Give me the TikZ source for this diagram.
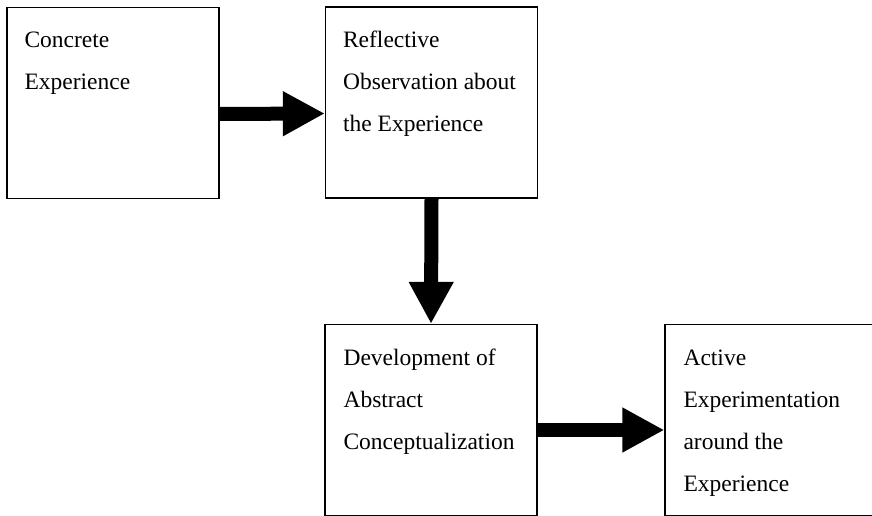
\documentclass[tikz,border=0pt]{standalone}
\usepackage{fontspec}
\setmainfont{Liberation Serif}
\usetikzlibrary{arrows.meta}
\begin{document}
\begin{tikzpicture}[x=1pt,y=1pt,
  stage/.style={draw,line width=1.3pt,minimum width=212pt,minimum height=191pt,inner sep=0pt},
  stagetext/.style={anchor=north west,inner sep=0pt,align=left,
    font=\fontsize{23.5}{42}\selectfont},
  flow/.style={line width=14pt,-{Triangle[length=42pt,width=42pt]}}]
\useasboundingbox (0,0) rectangle (872,516);
\clip (0,0) rectangle (872,516);
% the four stages
\node[stage] (ce) at (113,413) {};
\node[stage] (ro) at (431.5,413.5) {};
\node[stage] (dac) at (431,96) {};
\node[stage,minimum width=250pt] (ae) at (790,96) {};
\node[stagetext] (cetext) at ([shift={(18,-24.5)}]ce.north west) {Concrete\\Experience};
\node[stagetext] (rotext) at ([shift={(18,-24.5)}]ro.north west) {Reflective\\Observation about\\the Experience};
\node[stagetext] (dactext) at ([shift={(19,-24.5)}]dac.north west) {Development of\\Abstract\\Conceptualization};
\node[stagetext] (aetext) at ([shift={(19,-26)}]ae.north west) {Active\\Experimentation\\around the\\Experience};
% arrows between them
\draw[flow] ([yshift=-11pt]ce.east) -- ([yshift=-11pt]ro.west);
\draw[flow] (ro.south) -- (dac.north);
\draw[flow] ([yshift=-10pt]dac.east) -- ([yshift=-10pt]ae.west);
\end{tikzpicture}
\end{document}
